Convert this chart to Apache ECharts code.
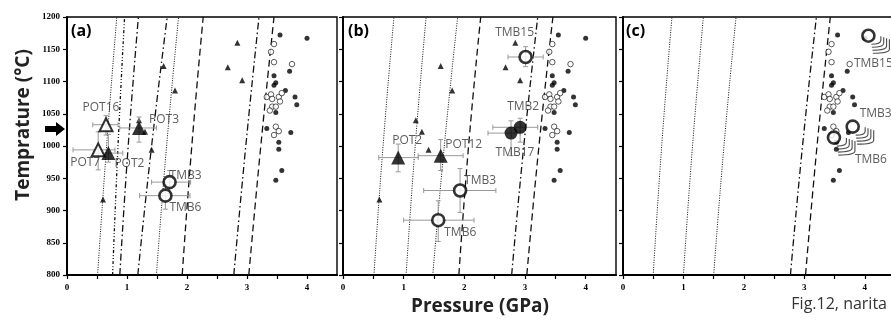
<!DOCTYPE html>
<html>
<head>
<meta charset="utf-8">
<script src="https://cdn.jsdelivr.net/npm/echarts@6/dist/echarts.min.js"></script>
<style>
html, body { margin: 0; padding: 0; background: #fff; }
#main { width: 891px; height: 320px; }
</style>
</head>
<body>
<div id="main"></div>
<script>
// literature data, drawn in every panel (triangles only in a, b)
const bgTriangles = [[0.60, 917], [1.20, 1040], [1.30, 1022], [1.41, 994], [1.61, 1124],
    [1.80, 1086], [2.68, 1122], [2.84, 1160], [2.92, 1102]];
const bgDots = [[3.55, 1172], [4.00, 1167], [3.71, 1116], [3.45, 1109], [3.48, 1098],
    [3.45, 1094], [3.64, 1086], [3.80, 1076], [3.83, 1064], [3.48, 1052], [3.33, 1027],
    [3.73, 1021], [3.53, 1006], [3.53, 995], [3.58, 962], [3.48, 947]];
const bgOpen = [[3.45, 1158], [3.40, 1146], [3.45, 1130], [3.75, 1127], [3.33, 1076],
    [3.40, 1080], [3.42, 1073], [3.53, 1076], [3.58, 1082], [3.55, 1069], [3.42, 1061],
    [3.38, 1055], [3.48, 1061], [3.48, 1030], [3.53, 1023], [3.45, 1017]];

// isopleths [P, T]
const isoA = [
    [[0.51, 800], [0.66, 1000], [0.83, 1200]],
    [[0.76, 800], [0.85, 1000], [0.96, 1200]],
    [[0.88, 800], [1.02, 1000], [1.19, 1200]],
    [[1.18, 800], [1.41, 1000], [1.67, 1200]],
    [[1.49, 800], [1.66, 1000], [1.86, 1200]],
    [[1.92, 800], [2.08, 1000], [2.27, 1200]],
    [[2.78, 800], [2.98, 1000], [3.20, 1200]],
    [[3.03, 800], [3.23, 1000], [3.45, 1200]]
];
const isoAType = ['dot', 'dashdotdot', 'dashdot', 'dashdot', 'dot', 'dash', 'dashdot', 'dash'];
const isoB = [
    [[0.51, 800], [0.66, 1000], [0.84, 1200]],
    [[1.04, 800], [1.19, 1000], [1.37, 1200]],
    [[1.48, 800], [1.67, 1000], [1.89, 1200]],
    [[1.91, 800], [2.07, 1000], [2.27, 1200]],
    [[2.78, 800], [2.98, 1000], [3.21, 1200]],
    [[3.03, 800], [3.23, 1000], [3.46, 1200]]
];
const isoBType = ['dot', 'dot', 'dot', 'dash', 'dashdot', 'dash'];
const isoC = [
    [[0.50, 800], [0.64, 1000], [0.81, 1200]],
    [[1.00, 800], [1.15, 1000], [1.33, 1200]],
    [[1.50, 800], [1.67, 1000], [1.87, 1200]],
    [[2.77, 800], [2.97, 1000], [3.20, 1200]],
    [[3.02, 800], [3.21, 1000], [3.43, 1200]]
];
const isoCType = ['dot', 'dot', 'dot', 'dashdot', 'dash'];

// samples: name, P, T, Pmin, Pmax, Tmin, Tmax, marker
const samplesA = [
    ['POT16', 0.65, 1033, 0.43, 0.85, 1017, 1047, 'openTri'],
    ['POT3', 1.20, 1028, 0.88, 1.49, 1006, 1045, 'fillTri'],
    ['POT7', 0.52, 994, 0.10, 0.80, 963, 1022, 'openTri'],
    ['POT2', 0.69, 989, 0.45, 0.93, 975, 1018, 'fillTri'],
    ['TMB3', 1.71, 944, 1.41, 2.06, 926, 962, 'openCirc'],
    ['TMB6', 1.64, 923, 1.21, 2.05, 902, 940, 'openCirc']
];
const samplesB = [
    ['POT2', 0.91, 982, 0.59, 1.24, 960, 1003, 'fillTri'],
    ['POT12', 1.61, 985, 1.24, 1.98, 962, 1010, 'fillTri'],
    ['TMB3', 1.93, 931, 1.33, 2.52, 897, 965, 'openCirc'],
    ['TMB6', 1.57, 885, 1.00, 2.16, 852, 915, 'openCirc'],
    ['TMB15', 3.01, 1138, 2.72, 3.30, 1123, 1154, 'openCirc'],
    ['TMB2', 2.92, 1029, 2.47, 3.21, 1006, 1043, 'fillCirc'],
    ['TMB17', 2.77, 1020, 2.39, 2.92, 985, 1039, 'fillCirc']
];
const samplesC = [
    ['TMB15', 4.06, 1171, 'openCirc'],
    ['TMB3', 3.80, 1030, 'openCirc'],
    ['TMB6', 3.49, 1013, 'openCirc']
];

// label offsets from the marker, px
const offA = { POT16: [-5, -17], POT3: [25, -8], POT7: [-13, 13], POT2: [21, 10], TMB3: [16, -7], TMB6: [20, 12] };
const offB = { POT2: [9, -17], POT12: [23, -11], TMB3: [20, -10], TMB6: [22, 12], TMB15: [-11, -24], TMB2: [3, -21], TMB17: [4, 19] };
const offC = { TMB15: [5, 28], TMB3: [23, -13], TMB6: [37, 22] };

const dashes = {
    dot: [1, 1.4],
    dashdotdot: [3, 2, 1, 2, 1, 2],
    dashdot: [7, 3, 1.5, 3],
    dash: [7, 4]
};
const markers = {
    openTri: { symbol: 'triangle', size: 13, color: '#fff', bw: 2 },
    fillTri: { symbol: 'triangle', size: 14, color: '#000', bw: 0 },
    openCirc: { symbol: 'circle', size: 12, color: '#fff', bw: 2.6 },
    fillCirc: { symbol: 'circle', size: 13, color: '#000', bw: 0 }
};
const chevron = 'path://M10,0 L10,4 Q10,8 0,8 M13,1 L13,7 Q13,11 0.5,11 M16,2 L16,10 Q16,14 1,14 M19,3 L19,13 Q19,17 1.5,17';

const labelFont = { fontFamily: 'Open Sans', fontSize: 12, color: '#333' };
const tickFont = { fontFamily: 'Liberation Serif', fontWeight: 'bold', fontSize: 9, color: '#000' };

function renderErr(params, api) {
    const y = api.value(1), x = api.value(0);
    const l = api.coord([api.value(2), y]);
    const r = api.coord([api.value(3), y]);
    const b = api.coord([x, api.value(4)]);
    const t = api.coord([x, api.value(5)]);
    const c = 2.5;
    const st = { stroke: '#999', lineWidth: 1 };
    const seg = (x1, y1, x2, y2) => ({ type: 'line', shape: { x1, y1, x2, y2 }, style: st });
    return {
        type: 'group',
        children: [
            seg(l[0], l[1], r[0], r[1]),
            seg(l[0], l[1] - c, l[0], l[1] + c),
            seg(r[0], r[1] - c, r[0], r[1] + c),
            seg(b[0], b[1], t[0], t[1]),
            seg(b[0] - c, b[1], b[0] + c, b[1]),
            seg(t[0] - c, t[1], t[0] + c, t[1])
        ]
    };
}

function panel(i, iso, isoType, samples, offs, withTri, withErr) {
    const s = [];
    iso.forEach((pts, k) => {
        s.push({
            type: 'line', xAxisIndex: i, yAxisIndex: i, data: pts, smooth: true,
            showSymbol: false, silent: true, z: 1,
            lineStyle: { color: '#111', width: isoType[k] === 'dot' ? 1 : 1.3, type: dashes[isoType[k]] }
        });
    });
    if (withTri) {
        s.push({ type: 'scatter', xAxisIndex: i, yAxisIndex: i, data: bgTriangles, symbol: 'triangle', symbolSize: 6, itemStyle: { color: '#000' }, z: 3 });
    }
    s.push({ type: 'scatter', xAxisIndex: i, yAxisIndex: i, data: bgDots, symbol: 'circle', symbolSize: 5, itemStyle: { color: '#000' }, z: 3 });
    s.push({ type: 'scatter', xAxisIndex: i, yAxisIndex: i, data: bgOpen, symbol: 'circle', symbolSize: 5.5, itemStyle: { color: '#fff', borderColor: '#000', borderWidth: 0.8 }, z: 3 });
    if (withErr) {
        s.push({
            type: 'custom', xAxisIndex: i, yAxisIndex: i, renderItem: renderErr, z: 4,
            encode: { x: 0, y: 1 },
            data: samples.map(d => [d[1], d[2], d[3], d[4], d[5], d[6]])
        });
    } else {
        s.push({
            type: 'scatter', xAxisIndex: i, yAxisIndex: i, symbol: chevron, symbolSize: [18, 17], z: 4,
            symbolOffset: [12, 9],
            itemStyle: { color: 'none', borderColor: '#222', borderWidth: 1.1 },
            data: samples.map(d => [d[1], d[2]])
        });
    }
    s.push({
        type: 'scatter', xAxisIndex: i, yAxisIndex: i, z: 5,
        data: samples.map(d => {
            const m = markers[d[d.length - 1]];
            return {
                value: [d[1], d[2]], name: d[0], symbol: m.symbol, symbolSize: m.size,
                itemStyle: { color: m.color, borderColor: '#000', borderWidth: m.bw },
                label: Object.assign({ show: true, position: 'inside', offset: offs[d[0]], formatter: d[0] }, labelFont)
            };
        })
    });
    return s;
}

const grids = [
    { left: 67, top: 17, width: 270, height: 258 },
    { left: 343, top: 17, width: 273, height: 258 },
    { left: 623, top: 17, width: 272, height: 258 }
].map(g => Object.assign(g, {
    show: true, borderColor: '#000', borderWidth: 1.4, backgroundColor: '#fff',
    containLabel: false, outerBoundsMode: 'none'
}));

const xAxes = [0, 1, 2].map(i => ({
    type: 'value', gridIndex: i, min: 0, max: 4.5, interval: 0.5,
    axisLine: { lineStyle: { color: '#000', width: 2 } },
    axisTick: { length: 4, lineStyle: { color: '#000', width: 1.2 } },
    splitLine: { show: false },
    axisLabel: Object.assign({ margin: 8, showMaxLabel: false, formatter: v => (v % 1 === 0 ? String(v) : '') }, tickFont)
}));
const yAxes = [0, 1, 2].map(i => ({
    type: 'value', gridIndex: i, min: 800, max: 1200, interval: 50,
    axisLine: { show: true, lineStyle: { color: '#000', width: 2 } },
    axisTick: { show: true, length: 4, lineStyle: { color: '#000', width: 1.2 } },
    splitLine: { show: false },
    axisLabel: Object.assign({ show: i === 0, margin: 7, formatter: v => String(v) }, tickFont)
}));

const chart = echarts.init(document.getElementById('main'));
chart.setOption({
    backgroundColor: '#fff',
    animation: false,
    grid: grids,
    xAxis: xAxes,
    yAxis: yAxes,
    series: [].concat(
        panel(0, isoA, isoAType, samplesA, offA, true, true),
        panel(1, isoB, isoBType, samplesB, offB, true, true),
        panel(2, isoC, isoCType, samplesC, offC, false, false)
    ),
    graphic: [
        { type: 'text', x: 71, y: 31, style: { text: '(a)', font: 'bold 16px "Open Sans"', fill: '#000', textVerticalAlign: 'middle' }, z: 10 },
        { type: 'text', x: 348, y: 31, style: { text: '(b)', font: 'bold 16px "Open Sans"', fill: '#000', textVerticalAlign: 'middle' }, z: 10 },
        { type: 'text', x: 626, y: 31, style: { text: '(c)', font: 'bold 16px "Open Sans"', fill: '#000', textVerticalAlign: 'middle' }, z: 10 },
        { type: 'text', x: 24, y: 125, rotation: Math.PI / 2, style: { text: 'Temprature (°C)', font: 'bold 19px "Open Sans"', fill: '#222', textAlign: 'center', textVerticalAlign: 'middle' } },
        { type: 'text', x: 480, y: 307, style: { text: 'Pressure (GPa)', font: 'bold 19px "Open Sans"', fill: '#222', textAlign: 'center', textVerticalAlign: 'middle' } },
        { type: 'text', x: 887, y: 304, style: { text: 'Fig.12, narita', font: '16px "Open Sans"', fill: '#333', textAlign: 'right', textVerticalAlign: 'middle' } },
        { type: 'polygon', shape: { points: [[45, 126], [56, 126], [56, 122], [65, 129], [56, 136], [56, 132], [45, 132]] }, style: { fill: '#000' } }
    ]
});
</script>
</body>
</html>
